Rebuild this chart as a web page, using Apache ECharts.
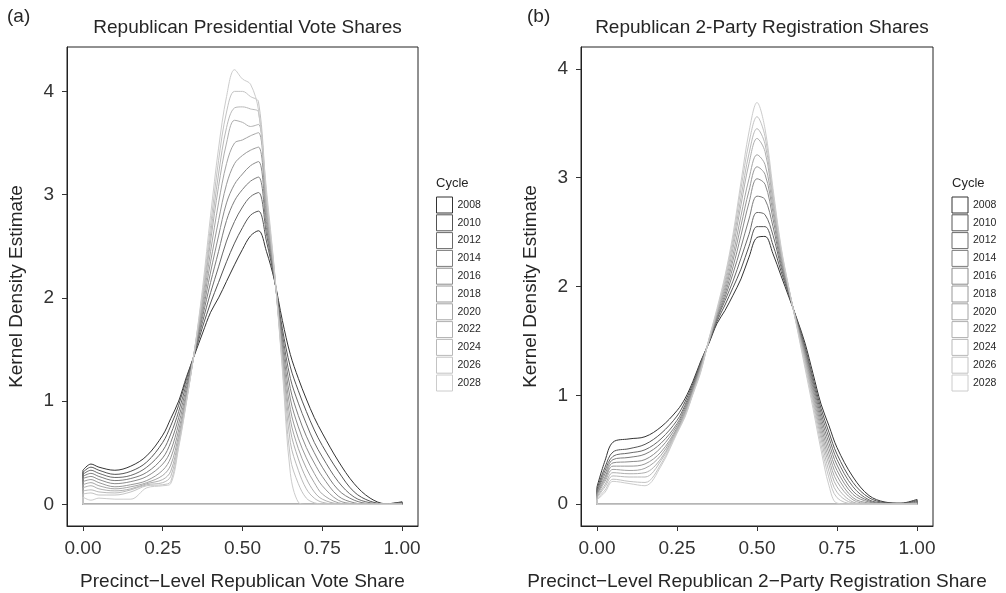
<!DOCTYPE html>
<html>
<head>
<meta charset="utf-8">
<script src="https://cdn.jsdelivr.net/npm/echarts@6/dist/echarts.min.js"></script>
<style>
html, body { margin: 0; padding: 0; background: #fff; }
#chart { width: 1006px; height: 593px; }
</style>
</head>
<body>
<div id="chart"></div>
<script>
// ---- Data ----
const cycles = ['2008', '2010', '2012', '2014', '2016', '2018', '2020', '2022', '2024', '2026', '2028'];

// common x grid for the kernel density estimates
const xGrid = [0, 0.025, 0.05, 0.1, 0.15, 0.2, 0.25, 0.275, 0.3, 0.325, 0.35, 0.375, 0.4, 0.425, 0.45, 0.475,
  0.5, 0.525, 0.55, 0.575, 0.6, 0.625, 0.65, 0.675, 0.7, 0.725, 0.75, 0.8, 0.85, 0.9, 0.95, 1.0];

const xTicks = [0, 0.25, 0.5, 0.75, 1.0];
const yTicks = [0, 1, 2, 3, 4];

// (a) Republican presidential vote shares
const vote2008 = [0.33, 0.39, 0.36, 0.33, 0.37, 0.47, 0.67, 0.83, 1.0, 1.24, 1.45, 1.66, 1.86, 2.0, 2.16, 2.32, 2.47, 2.6, 2.65, 2.45, 2.17, 1.78, 1.45, 1.22, 1.02, 0.84, 0.69, 0.42, 0.2, 0.06, 0.005, 0.025];
const vote2010 = [0.31, 0.36, 0.33, 0.29, 0.32, 0.41, 0.6, 0.76, 0.96, 1.22, 1.46, 1.72, 1.95, 2.15, 2.35, 2.53, 2.68, 2.8, 2.84, 2.55, 2.18, 1.7, 1.33, 1.1, 0.9, 0.72, 0.57, 0.32, 0.12, 0.03, 0.005, 0.02];
const vote2012 = [0.29, 0.33, 0.30, 0.26, 0.28, 0.36, 0.52, 0.68, 0.9, 1.18, 1.47, 1.77, 2.05, 2.3, 2.55, 2.74, 2.88, 2.98, 3.02, 2.62, 2.19, 1.65, 1.22, 0.98, 0.78, 0.6, 0.46, 0.22, 0.07, 0.015, 0.003, 0.015];
const vote2014 = [0.27, 0.30, 0.27, 0.23, 0.25, 0.31, 0.45, 0.6, 0.84, 1.14, 1.47, 1.82, 2.15, 2.45, 2.75, 2.94, 3.05, 3.13, 3.17, 2.68, 2.2, 1.6, 1.12, 0.86, 0.66, 0.5, 0.36, 0.14, 0.04, 0.005, 0, 0.01];
const vote2016 = [0.25, 0.27, 0.24, 0.20, 0.22, 0.27, 0.39, 0.52, 0.78, 1.1, 1.48, 1.86, 2.25, 2.6, 2.92, 3.1, 3.2, 3.28, 3.32, 2.74, 2.21, 1.55, 1.02, 0.75, 0.55, 0.4, 0.27, 0.08, 0.015, 0, 0, 0.005];
const vote2018 = [0.22, 0.24, 0.21, 0.17, 0.19, 0.23, 0.33, 0.45, 0.72, 1.07, 1.48, 1.9, 2.35, 2.75, 3.1, 3.3, 3.38, 3.43, 3.46, 2.8, 2.22, 1.5, 0.92, 0.64, 0.45, 0.3, 0.18, 0.04, 0.005, 0, 0, 0];
const vote2020 = [0.19, 0.21, 0.18, 0.15, 0.17, 0.21, 0.28, 0.38, 0.67, 1.05, 1.49, 1.94, 2.45, 2.92, 3.3, 3.5, 3.53, 3.57, 3.6, 2.85, 2.23, 1.45, 0.82, 0.54, 0.35, 0.21, 0.1, 0.015, 0, 0, 0, 0];
const vote2022 = [0.16, 0.18, 0.15, 0.13, 0.15, 0.2, 0.24, 0.32, 0.63, 1.03, 1.49, 1.98, 2.55, 3.08, 3.5, 3.72, 3.7, 3.66, 3.68, 2.9, 2.24, 1.42, 0.72, 0.44, 0.25, 0.12, 0.05, 0.005, 0, 0, 0, 0];
const vote2024 = [0.13, 0.14, 0.12, 0.11, 0.14, 0.19, 0.21, 0.27, 0.6, 1.02, 1.5, 2.02, 2.62, 3.2, 3.65, 3.84, 3.85, 3.83, 3.8, 2.95, 2.25, 1.38, 0.6, 0.33, 0.15, 0.06, 0.02, 0, 0, 0, 0, 0];
const vote2026 = [0.10, 0.11, 0.09, 0.09, 0.12, 0.18, 0.19, 0.22, 0.57, 1.01, 1.5, 2.06, 2.7, 3.33, 3.8, 4.0, 4.0, 3.95, 3.9, 3.0, 2.26, 1.34, 0.45, 0.2, 0.06, 0.015, 0.005, 0, 0, 0, 0, 0];
const vote2028 = [0.07, 0.04, 0.06, 0.05, 0.05, 0.16, 0.18, 0.2, 0.55, 1.0, 1.5, 2.1, 2.8, 3.45, 3.95, 4.21, 4.12, 4.07, 3.82, 3.05, 2.27, 1.3, 0.3, 0.02, 0, 0, 0, 0, 0, 0, 0, 0];

// (b) Republican 2-party registration shares
const reg2008 = [0.16, 0.4, 0.57, 0.6, 0.62, 0.71, 0.86, 0.97, 1.13, 1.32, 1.48, 1.66, 1.78, 1.92, 2.07, 2.27, 2.45, 2.46, 2.3, 2.1, 1.9, 1.7, 1.48, 1.2, 0.92, 0.72, 0.52, 0.25, 0.08, 0.02, 0.01, 0.045];
const reg2010 = [0.14, 0.34, 0.48, 0.51, 0.55, 0.65, 0.81, 0.94, 1.11, 1.31, 1.49, 1.68, 1.83, 1.99, 2.16, 2.37, 2.55, 2.55, 2.38, 2.14, 1.92, 1.69, 1.45, 1.16, 0.88, 0.66, 0.46, 0.2, 0.06, 0.015, 0.008, 0.035];
const reg2012 = [0.12, 0.31, 0.44, 0.47, 0.5, 0.6, 0.77, 0.91, 1.09, 1.3, 1.49, 1.7, 1.87, 2.05, 2.26, 2.48, 2.68, 2.66, 2.47, 2.18, 1.93, 1.68, 1.43, 1.13, 0.84, 0.61, 0.41, 0.16, 0.04, 0.01, 0.005, 0.03];
const reg2014 = [0.11, 0.28, 0.41, 0.43, 0.46, 0.56, 0.74, 0.89, 1.07, 1.29, 1.5, 1.71, 1.9, 2.12, 2.36, 2.62, 2.83, 2.8, 2.55, 2.21, 1.94, 1.67, 1.41, 1.1, 0.8, 0.56, 0.36, 0.12, 0.03, 0.005, 0.003, 0.02];
const reg2016 = [0.1, 0.25, 0.38, 0.39, 0.41, 0.52, 0.72, 0.87, 1.06, 1.28, 1.5, 1.72, 1.93, 2.18, 2.47, 2.77, 2.99, 2.94, 2.62, 2.24, 1.95, 1.66, 1.39, 1.07, 0.76, 0.51, 0.31, 0.09, 0.02, 0.003, 0, 0.015];
const reg2018 = [0.09, 0.23, 0.35, 0.35, 0.37, 0.48, 0.7, 0.85, 1.05, 1.27, 1.5, 1.74, 1.96, 2.24, 2.56, 2.88, 3.1, 3.03, 2.68, 2.27, 1.96, 1.66, 1.37, 1.04, 0.72, 0.46, 0.26, 0.06, 0.01, 0, 0, 0.01];
const reg2020 = [0.08, 0.21, 0.32, 0.31, 0.33, 0.45, 0.69, 0.84, 1.04, 1.26, 1.5, 1.75, 1.99, 2.29, 2.65, 2.99, 3.21, 3.12, 2.73, 2.29, 1.96, 1.65, 1.35, 1.01, 0.68, 0.41, 0.21, 0.04, 0.005, 0, 0, 0.005];
const reg2022 = [0.07, 0.18, 0.29, 0.28, 0.29, 0.42, 0.68, 0.83, 1.03, 1.25, 1.51, 1.76, 2.02, 2.35, 2.75, 3.13, 3.36, 3.24, 2.78, 2.31, 1.97, 1.64, 1.33, 0.98, 0.64, 0.36, 0.16, 0.02, 0, 0, 0, 0];
const reg2024 = [0.06, 0.16, 0.26, 0.25, 0.25, 0.4, 0.67, 0.82, 1.02, 1.24, 1.51, 1.77, 2.05, 2.4, 2.82, 3.22, 3.45, 3.31, 2.82, 2.33, 1.97, 1.64, 1.31, 0.95, 0.6, 0.3, 0.11, 0.01, 0, 0, 0, 0];
const reg2026 = [0.05, 0.13, 0.23, 0.21, 0.2, 0.37, 0.66, 0.81, 1.02, 1.23, 1.52, 1.78, 2.08, 2.44, 2.9, 3.32, 3.56, 3.38, 2.86, 2.35, 1.98, 1.63, 1.28, 0.92, 0.55, 0.24, 0.06, 0.003, 0, 0, 0, 0];
const reg2028 = [0.04, 0.11, 0.21, 0.19, 0.17, 0.35, 0.65, 0.8, 1.01, 1.22, 1.52, 1.8, 2.1, 2.48, 2.96, 3.42, 3.69, 3.45, 2.9, 2.37, 1.98, 1.62, 1.25, 0.88, 0.5, 0.17, 0.01, 0, 0, 0, 0, 0];

const voteSeries = [vote2008, vote2010, vote2012, vote2014, vote2016, vote2018, vote2020, vote2022, vote2024, vote2026, vote2028];
const regSeries = [reg2008, reg2010, reg2012, reg2014, reg2016, reg2018, reg2020, reg2022, reg2024, reg2026, reg2028];

// ---- Styles ----
const greys = ['#333333', '#545454', '#6a6a6a', '#7c7c7c', '#8b8b8b', '#989898', '#a4a4a4', '#afafaf', '#b9b9b9', '#c3c3c3', '#cccccc'];
const FONT = 'Liberation Sans';
const TXT = '#262626';

function curveSeries(panel, arrays) {
  const out = [];
  arrays.forEach(function (arr, i) {
    const pts = xGrid.map(function (x, k) { return [x, arr[k]]; });
    out.push({
      type: 'line', name: cycles[i], xAxisIndex: panel, yAxisIndex: panel,
      data: pts, smooth: 0.35, symbol: 'none', silent: true,
      lineStyle: { color: greys[i], width: 1 }, itemStyle: { color: greys[i] }
    });
    // closing outline of the density polygon (vertical ends and baseline)
    const last = xGrid.length - 1;
    out.push({
      type: 'line', name: cycles[i], xAxisIndex: panel, yAxisIndex: panel,
      data: [[xGrid[0], arr[0]], [xGrid[0], 0], [xGrid[last], 0], [xGrid[last], arr[last]]],
      smooth: false, symbol: 'none', silent: true,
      lineStyle: { color: greys[i], width: 1 }, itemStyle: { color: greys[i] }
    });
  });
  return out;
}

function xAxisCfg(idx, name) {
  return {
    type: 'value', gridIndex: idx, min: -0.05, max: 1.05,
    axisLine: { show: true, onZero: false, lineStyle: { color: '#222', width: 1 } }, splitLine: { show: false },
    axisTick: { show: true, length: 5, customValues: xTicks, lineStyle: { color: '#333', width: 1 } },
    axisLabel: { customValues: xTicks, formatter: function (v) { return v.toFixed(2); },
      fontSize: 19, color: '#333', margin: 13, fontFamily: FONT },
    name: name, nameLocation: 'middle', nameGap: 46,
    nameTextStyle: { fontSize: 19, color: TXT, fontFamily: FONT }
  };
}
function yAxisCfg(idx, min, max) {
  return {
    type: 'value', gridIndex: idx, min: min, max: max,
    axisLine: { show: true, onZero: false, lineStyle: { color: '#222', width: 1 } }, splitLine: { show: false },
    axisTick: { show: true, length: 5, customValues: yTicks, lineStyle: { color: '#333', width: 1 } },
    axisLabel: { customValues: yTicks, fontSize: 19, color: '#333', margin: 13, fontFamily: FONT },
    name: 'Kernel Density Estimate', nameLocation: 'middle', nameGap: 41,
    nameTextStyle: { fontSize: 19, color: TXT, fontFamily: FONT }
  };
}
function legendCfg(left) {
  return {
    orient: 'vertical', left: left, top: 196.5, padding: 0, icon: 'rect',
    itemWidth: 16, itemHeight: 16, itemGap: 0.8, selectedMode: false,
    textStyle: { fontSize: 10.5, color: TXT, fontFamily: FONT },
    data: cycles.map(function (c, i) {
      return { name: c, itemStyle: { color: '#ffffff', borderColor: greys[i], borderWidth: 1 } };
    })
  };
}

const chart = echarts.init(document.getElementById('chart'), null, { renderer: 'canvas' });
chart.setOption({
  animation: false,
  backgroundColor: '#ffffff',
  textStyle: { fontFamily: FONT },
  title: [
    { text: '(a)', left: 2, top: 2, textStyle: { fontSize: 19, fontWeight: 'normal', color: TXT, fontFamily: FONT } },
    { text: '(b)', left: 522, top: 2, textStyle: { fontSize: 19, fontWeight: 'normal', color: TXT, fontFamily: FONT } },
    { text: 'Republican Presidential Vote Shares', left: 242.5, textAlign: 'center', top: 13,
      textStyle: { fontSize: 19, fontWeight: 'normal', color: TXT, fontFamily: FONT } },
    { text: 'Republican 2-Party Registration Shares', left: 757, textAlign: 'center', top: 13,
      textStyle: { fontSize: 19, fontWeight: 'normal', color: TXT, fontFamily: FONT } },
    { text: 'Cycle', left: 431, top: 172, textStyle: { fontSize: 13, fontWeight: 'normal', color: TXT, fontFamily: FONT } },
    { text: 'Cycle', left: 947, top: 172, textStyle: { fontSize: 13, fontWeight: 'normal', color: TXT, fontFamily: FONT } }
  ],
  legend: [legendCfg(436), legendCfg(951.5)],
  grid: [
    { left: 67, top: 47, width: 351, height: 479, show: true, borderColor: '#222', borderWidth: 1,
      backgroundColor: 'transparent', containLabel: false, outerBoundsMode: 'none' },
    { left: 581, top: 47, width: 352, height: 479, show: true, borderColor: '#222', borderWidth: 1,
      backgroundColor: 'transparent', containLabel: false, outerBoundsMode: 'none' }
  ],
  xAxis: [
    xAxisCfg(0, 'Precinct\u2212Level Republican Vote Share'),
    xAxisCfg(1, 'Precinct\u2212Level Republican 2\u2212Party Registration Share')
  ],
  yAxis: [
    yAxisCfg(0, -0.21, 4.43),
    yAxisCfg(1, -0.2, 4.2)
  ],
  series: curveSeries(0, voteSeries).concat(curveSeries(1, regSeries))
});
</script>
</body>
</html>
